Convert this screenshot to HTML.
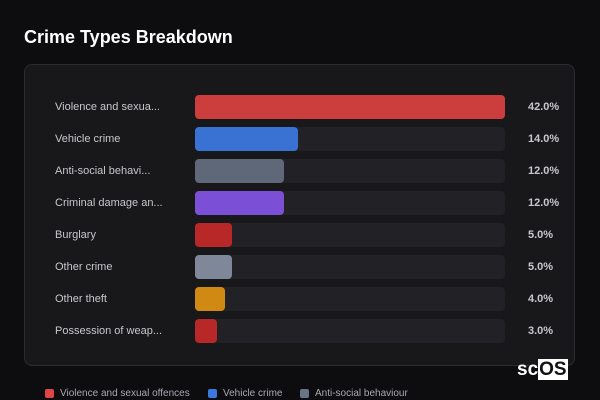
<!DOCTYPE html>
<html><head><meta charset="utf-8"><style>
body{margin:0;width:600px;height:400px;background:#0d0d10;font-family:"Liberation Sans",sans-serif;overflow:hidden;position:relative}
.title{position:absolute;left:24px;top:27px;font-size:18px;font-weight:bold;color:#fff}
.card{position:absolute;left:24px;top:64px;width:551px;height:302px;background:#18181b;border:1px solid #2c2c30;border-radius:8px;box-sizing:border-box}
.lab{position:absolute;left:55px;font-size:11px;color:#c8c8cc;line-height:24px}
.track{position:absolute;left:195px;width:310px;height:24px;background:#222226;border-radius:4px}
.bar{position:absolute;left:0;top:0;height:24px;border-radius:4px}
.val{position:absolute;left:528px;font-size:11px;font-weight:bold;color:#c8c8cc;line-height:24px}
.leg{position:absolute;top:388px;font-size:10px;color:#a8a8b0;display:flex;align-items:center}
.leg i{display:inline-block;width:9px;height:9px;border-radius:2px;margin-right:6px}
.logo{position:absolute;left:517px;top:359px;font-size:19px;font-weight:bold;color:#fff}
.logo span{background:#fff;color:#111;padding:0 1px}
</style></head><body>
<div class="title">Crime Types Breakdown</div>
<div class="card"></div>
<div id="rows"></div>
<div class="logo">sc<span>OS</span></div>
<div class="leg" style="left:45px"><i style="background:#e04444"></i>Violence and sexual offences</div>
<div class="leg" style="left:208px"><i style="background:#3a7ae0"></i>Vehicle crime</div>
<div class="leg" style="left:300px"><i style="background:#6a7488"></i>Anti-social behaviour</div>
<script>
const labels=["Violence and sexua...","Vehicle crime","Anti-social behavi...","Criminal damage an...","Burglary","Other crime","Other theft","Possession of weap..."];
const values=[42,14,12,12,5,5,4,3];
const colors=["#cc3d3d","#3a72d4","#5e6878","#7b4fd6","#b82828","#7e8898","#d08a14","#b82828"];
const maxV=Math.max(...values);
const root=document.getElementById('rows');
function x(v){return v/maxV*310;}
labels.forEach((l,i)=>{
  const top=95+i*32;
  const lab=document.createElement('div');lab.className='lab';lab.style.top=top+'px';lab.textContent=l;
  
  
  const tr=document.createElement('div');tr.className='track';tr.style.top=top+'px';
  
  
  const b=document.createElement('div');b.className='bar';b.style.width=x(values[i])+'px';b.style.background=colors[i];
  
  
  tr.appendChild(b);
  const v=document.createElement('div');v.className='val';v.style.top=top+'px';v.textContent=values[i].toFixed(1)+'%';
  
  
  root.append(lab,tr,v);
});
</script>
</body></html>
